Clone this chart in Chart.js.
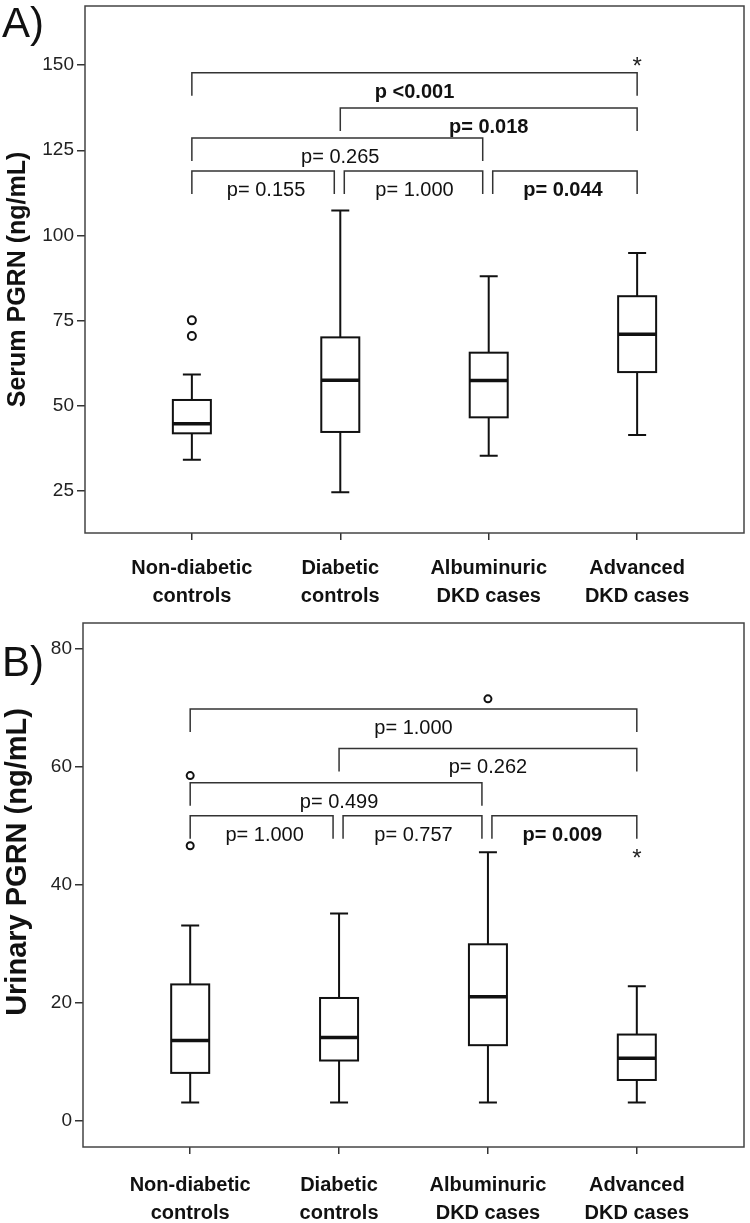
<!DOCTYPE html>
<html>
<head>
<meta charset="utf-8">
<title>Serum and urinary PGRN</title>
<script src="https://cdn.jsdelivr.net/npm/chart.js@4.4.1/dist/chart.umd.min.js"></script>
<style>
  body { margin: 0; background: #fff; }
  canvas { display: block; }
</style>
</head>
<body>
<canvas id="serumChart" width="750" height="610"></canvas>
<canvas id="urineChart" width="750" height="613"></canvas>
<script>
const family = `"Liberation Sans", Arial, sans-serif`;

const groupLabels = [
  ["Non-diabetic", "controls"],
  ["Diabetic", "controls"],
  ["Albuminuric", "DKD cases"],
  ["Advanced", "DKD cases"],
];

// A) serum PGRN, ng/mL
const serumLow = [34.0, 24.5, 35.2, 41.3];
const serumQ1 = [41.8, 42.2, 46.5, 59.8];
const serumMedian = [44.6, 57.4, 57.3, 70.9];
const serumQ3 = [51.6, 70.0, 65.5, 82.1];
const serumHigh = [59.1, 107.3, 88.0, 94.8];
const serumOutliers = [{ x: 0, y: 75.0 }, { x: 0, y: 70.4 }];
const serumExtremes = [{ x: 3, y: 151.3 }];
const serumTicks = [25, 50, 75, 100, 125, 150];
const serumPairFrom = [0, 1, 0, 0, 1, 2];
const serumPairTo = [3, 3, 2, 1, 2, 3];
const serumPairLevel = [147.8, 137.4, 128.6, 118.9, 118.9, 118.9];
const serumPairText = ["p <0.001", "p= 0.018", "p= 0.265", "p= 0.155", "p= 1.000", "p= 0.044"];
const serumPairBold = [true, true, false, false, false, true];

// B) urinary PGRN, ng/mL
const urineLow = [3.1, 3.1, 3.1, 3.1];
const urineQ1 = [8.1, 10.2, 12.8, 6.9];
const urineMedian = [13.6, 14.1, 21.0, 10.6];
const urineQ3 = [23.1, 20.8, 29.9, 14.6];
const urineHigh = [33.1, 35.1, 45.5, 22.8];
const urineOutliers = [{ x: 0, y: 58.5 }, { x: 0, y: 46.6 }, { x: 2, y: 71.5 }];
const urineExtremes = [{ x: 3, y: 45.4 }];
const urineTicks = [0, 20, 40, 60, 80];
const urinePairFrom = [0, 1, 0, 0, 1, 2];
const urinePairTo = [3, 3, 2, 1, 2, 3];
const urinePairLevel = [69.8, 63.1, 57.3, 51.7, 51.7, 51.7];
const urinePairText = ["p= 1.000", "p= 0.262", "p= 0.499", "p= 1.000", "p= 0.757", "p= 0.009"];
const urinePairBold = [false, false, false, false, false, true];

Chart.defaults.font.family = family;

// boxes, whiskers, medians and the extreme (*) values
function boxLayer(low, q1, median, q3, high, extremes) {
  return {
    id: "boxLayer",
    afterDatasetsDraw(chart) {
      const { ctx } = chart;
      const x = chart.scales.x;
      const y = chart.scales.y;
      ctx.save();
      ctx.strokeStyle = "#111";
      low.forEach((lo, i) => {
        const cx = x.getPixelForValue(i);
        const pLow = y.getPixelForValue(lo);
        const pQ1 = y.getPixelForValue(q1[i]);
        const pMed = y.getPixelForValue(median[i]);
        const pQ3 = y.getPixelForValue(q3[i]);
        const pHigh = y.getPixelForValue(high[i]);
        ctx.lineWidth = 2;
        ctx.beginPath();
        ctx.moveTo(cx, pLow);
        ctx.lineTo(cx, pQ1);
        ctx.moveTo(cx, pQ3);
        ctx.lineTo(cx, pHigh);
        ctx.moveTo(cx - 9, pLow);
        ctx.lineTo(cx + 9, pLow);
        ctx.moveTo(cx - 9, pHigh);
        ctx.lineTo(cx + 9, pHigh);
        ctx.stroke();
        ctx.fillStyle = "#fff";
        ctx.fillRect(cx - 19, pQ3, 38, pQ1 - pQ3);
        ctx.strokeRect(cx - 19, pQ3, 38, pQ1 - pQ3);
        ctx.lineWidth = 3.5;
        ctx.beginPath();
        ctx.moveTo(cx - 19, pMed);
        ctx.lineTo(cx + 19, pMed);
        ctx.stroke();
      });
      ctx.fillStyle = "#222";
      ctx.font = `24px ${family}`;
      ctx.textAlign = "center";
      extremes.forEach((p) => {
        ctx.fillText("*", x.getPixelForValue(p.x), y.getPixelForValue(p.y) + 13);
      });
      ctx.restore();
    },
  };
}

// comparison brackets with their p values
function pairLayer(from, to, level, text, bold) {
  return {
    id: "pairLayer",
    afterDraw(chart) {
      const { ctx } = chart;
      const x = chart.scales.x;
      const y = chart.scales.y;
      const last = groupLabels.length - 1;
      ctx.save();
      ctx.strokeStyle = "#333";
      ctx.lineWidth = 1.5;
      ctx.fillStyle = "#111";
      ctx.textAlign = "center";
      from.forEach((f, i) => {
        const t = to[i];
        const shared = from.some((_, j) => j !== i && level[j] === level[i] && to[j] === f);
        const x1 = x.getPixelForValue(f) + (shared ? 4 : 0);
        const x2 = x.getPixelForValue(t) - (t < last ? 6 : 0);
        const py = y.getPixelForValue(level[i]);
        ctx.beginPath();
        ctx.moveTo(x1, py + 23);
        ctx.lineTo(x1, py);
        ctx.lineTo(x2, py);
        ctx.lineTo(x2, py + 23);
        ctx.stroke();
        ctx.font = `${bold[i] ? "bold " : ""}20px ${family}`;
        ctx.fillText(text[i], (x.getPixelForValue(f) + x.getPixelForValue(t)) / 2, py + 25);
      });
      ctx.restore();
    },
  };
}

// frame round the plot area, panel letter and the rotated y title
function frameLayer(p) {
  return {
    id: "frameLayer",
    afterDraw(chart) {
      const { ctx, chartArea: a } = chart;
      ctx.save();
      ctx.strokeStyle = "#444";
      ctx.lineWidth = 1.5;
      ctx.strokeRect(a.left, a.top, a.right - a.left, a.bottom - a.top);
      ctx.fillStyle = "#111";
      ctx.font = `42px ${family}`;
      ctx.textAlign = "left";
      ctx.fillText(p.tag, 2, p.tagY);
      ctx.translate(18, (a.top + a.bottom) / 2 + p.titleShift);
      ctx.rotate(-Math.PI / 2);
      ctx.textAlign = "center";
      ctx.textBaseline = "middle";
      ctx.font = `bold ${p.titleSize}px ${family}`;
      ctx.fillText(p.title, 0, 0);
      ctx.restore();
    },
  };
}

function makePanel(id, p) {
  return new Chart(document.getElementById(id), {
    type: "scatter",
    data: {
      datasets: [
        {
          data: p.outliers,
          pointRadius: p.dot,
          pointBorderWidth: 2,
          pointBackgroundColor: "#fff",
          pointBorderColor: "#111",
        },
      ],
    },
    options: {
      responsive: false,
      animation: false,
      layout: { padding: { top: p.top, right: 2, left: 0, bottom: 0 } },
      plugins: { legend: { display: false }, tooltip: { enabled: false } },
      scales: {
        x: {
          type: "linear",
          min: -0.72,
          max: 3.72,
          afterBuildTicks: (s) => {
            s.ticks = groupLabels.map((_, i) => ({ value: i }));
          },
          afterFit: (s) => {
            s.height = p.xHeight;
          },
          ticks: {
            callback: (value, index) => groupLabels[index],
            font: { size: 20, weight: "bold", lineHeight: 1.38 },
            color: "#111",
            padding: p.xPad,
            maxRotation: 0,
            autoSkip: false,
          },
          grid: { drawOnChartArea: false, tickLength: 7, color: "#333", lineWidth: 1.5 },
          border: { display: false },
        },
        y: {
          min: p.min,
          max: p.max,
          afterBuildTicks: (s) => {
            s.ticks = p.ticks.map((v) => ({ value: v }));
          },
          afterFit: (s) => {
            s.width = p.yWidth;
            s.paddingTop = 0;
            s.paddingBottom = 0;
          },
          ticks: { font: { size: 19 }, color: "#222", padding: 3 },
          grid: { drawOnChartArea: false, tickLength: 8, color: "#333", lineWidth: 1.5 },
          border: { display: false },
        },
      },
    },
    plugins: [p.boxes, p.pairs, frameLayer(p)],
  });
}

makePanel("serumChart", {
  outliers: serumOutliers,
  dot: 4,
  top: 2,
  xHeight: 77,
  xPad: 15,
  yWidth: 85,
  min: 12.5,
  max: 167.4,
  ticks: serumTicks,
  title: "Serum PGRN (ng/mL)",
  titleSize: 25,
  titleShift: 10,
  tag: "A)",
  tagY: 37,
  boxes: boxLayer(serumLow, serumQ1, serumMedian, serumQ3, serumHigh, serumExtremes),
  pairs: pairLayer(serumPairFrom, serumPairTo, serumPairLevel, serumPairText, serumPairBold),
});

makePanel("urineChart", {
  outliers: urineOutliers,
  dot: 3.5,
  top: 13,
  xHeight: 76,
  xPad: 18,
  yWidth: 83,
  min: -4.46,
  max: 84.36,
  ticks: urineTicks,
  title: "Urinary PGRN (ng/mL)",
  titleSize: 29,
  titleShift: -23,
  tag: "B)",
  tagY: 66,
  boxes: boxLayer(urineLow, urineQ1, urineMedian, urineQ3, urineHigh, urineExtremes),
  pairs: pairLayer(urinePairFrom, urinePairTo, urinePairLevel, urinePairText, urinePairBold),
});
</script>
</body>
</html>
